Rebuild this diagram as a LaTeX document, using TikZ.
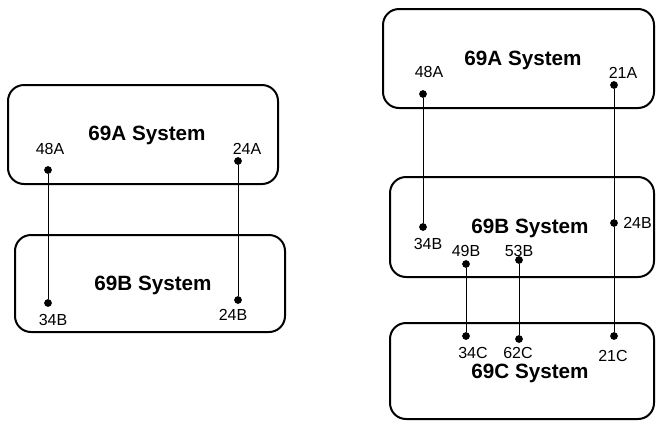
\documentclass[tikz,border=0pt]{standalone}
\usepackage{fontspec}
\setmainfont{Liberation Sans}
\usetikzlibrary{positioning}

\begin{document}
\begin{tikzpicture}[
        x=0.75pt, y=-0.75pt,
        sysbox/.style={rectangle, draw, rounded corners=12pt, line width=1.5pt, inner sep=0pt},
        systitle/.style={font=\fontsize{15.5}{18}\selectfont\bfseries, inner sep=0pt},
        pin/.style={circle, fill, inner sep=0pt, minimum size=5.8pt},
        pinlabel/.style={font=\fontsize{12}{14}\selectfont, inner sep=0pt},
        wire/.style={draw, line width=0.6pt}
    ]
        \useasboundingbox (0,0) rectangle (656,422);

        % left pair
        \node [sysbox, minimum width=202.5pt, minimum height=74.25pt] (la) at (143,134.5) {};
        \node [systitle] (latitle) at (147,135) {69A System};
        \node [sysbox, minimum width=202.5pt, minimum height=72.75pt] (lb) at (150,283.5) {};
        \node [systitle] (lbtitle) at (153,285) {69B System};

        \node [pin] (la48) at (48,170) {};
        \node [pin] (la24) at (238,161) {};
        \node [pin] (lb34) at (48,303) {};
        \node [pin] (lb24) at (238,300) {};
        \node [pinlabel] at (50,149) {48A};
        \node [pinlabel] at (247,149) {24A};
        \node [pinlabel] at (53,320) {34B};
        \node [pinlabel] at (233,315) {24B};

        \path [wire] (la48) -- (lb34);
        \path [wire] (la24) -- (lb24);

        % right stack
        \node [sysbox, minimum width=203.25pt, minimum height=74.25pt] (ra) at (518.5,58.5) {};
        \node [systitle] (ratitle) at (523,60) {69A System};
        \node [sysbox, minimum width=198pt, minimum height=75pt] (rb) at (522,227) {};
        \node [systitle] (rbtitle) at (530,228) {69B System};
        \node [sysbox, minimum width=198pt, minimum height=72pt] (rc) at (522,371) {};
        \node [systitle] (rctitle) at (530,373) {69C System};

        \node [pin] (ra48) at (423,94) {};
        \node [pin] (ra21) at (614,85) {};
        \node [pin] (rb34) at (423,227) {};
        \node [pin] (rb24) at (614,223) {};
        \node [pin] (rb49) at (466,264) {};
        \node [pin] (rb53) at (519,260) {};
        \node [pin] (rc34) at (466,336) {};
        \node [pin] (rc62) at (519,339) {};
        \node [pin] (rc21) at (614,336) {};
        \node [pinlabel] at (429,72) {48A};
        \node [pinlabel] at (623,73) {21A};
        \node [pinlabel] at (428,244) {34B};
        \node [pinlabel, anchor=west] at (623,223) {24B};
        \node [pinlabel] at (466,251) {49B};
        \node [pinlabel] at (519,251) {53B};
        \node [pinlabel] at (473,353) {34C};
        \node [pinlabel] at (518,353) {62C};
        \node [pinlabel] at (613,356) {21C};

        \path [wire] (ra48) -- (rb34);
        \path [wire] (ra21) -- (rb24) -- (rc21);
        \path [wire] (rb49) -- (rc34);
        \path [wire] (rb53) -- (rc62);
    \end{tikzpicture}
\end{document}
